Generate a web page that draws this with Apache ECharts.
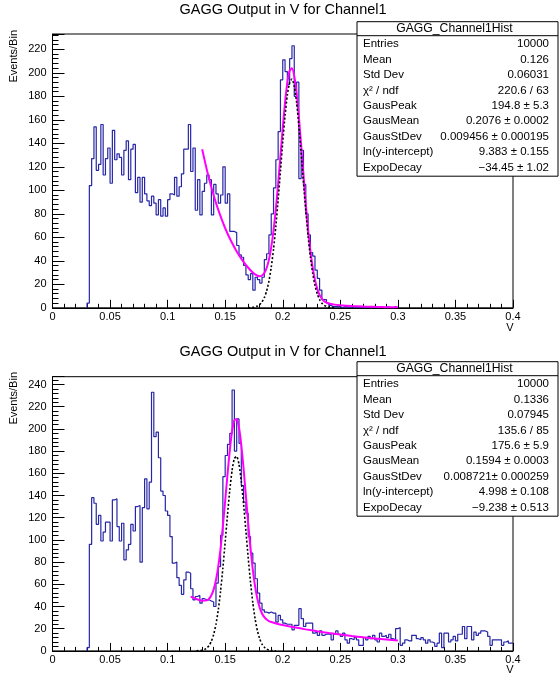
<!DOCTYPE html>
<html><head><meta charset="utf-8">
<script src="https://cdn.jsdelivr.net/npm/echarts@6/dist/echarts.min.js"></script>
<style>html,body{margin:0;padding:0;background:#fff}#c{width:559px;height:677px}</style>
</head><body><div id="c"></div>
<script>
// ---------------- data ----------------
const BIN_WIDTH = 0.002;
const xTickInterval = 0.05;
const yTickInterval = 20;
const topYMax = 233;
const botYMax = 247;

const topHistStart = 0.030;
const topCounts = [
  4,104,127,154,117,122,156,113,127,136,
  106,151,126,131,128,113,134,142,109,135,
  139,98,111,90,111,97,91,87,95,89,
  79,92,78,85,78,92,97,96,111,95,
  103,114,135,135,156,116,136,83,109,79,
  99,106,113,109,79,105,97,89,96,120,
  89,97,65,65,64,53,45,43,36,28,
  24,29,15,26,24,21,26,41,46,62,
  80,102,126,150,194,211,201,190,212,223,
  180,192,110,134,105,80,62,47,44,32,
  25,15,7,7,4,2,1,1,1,1,
  0,1,1,0,1,0,1,0,1,0,
  0,1,0,0,1,0,0,1,0,0,
  1,0,0,1,0
];

const botHistStart = 0.030;
const botCounts = [
  3,96,138,133,114,122,99,107,116,116,
  99,136,137,112,99,115,82,91,96,114,
  108,130,131,80,129,155,128,152,233,193,
  197,174,144,140,126,122,103,79,80,66,
  59,51,64,71,70,56,46,49,50,43,
  47,46,46,45,44,40,61,76,104,157,
  176,186,196,235,180,209,187,149,134,124,
  103,88,79,65,52,43,37,35,34,35,
  34,34,26,32,28,25,24,24,24,19,
  23,23,38,29,22,25,25,25,16,17,
  14,18,14,15,15,15,10,15,18,15,
  13,16,10,7,11,10,12,10,5,5,
  12,10,13,11,14,10,8,16,13,14,
  12,15,11,10,20,21,5,7,10,9,
  9,14,14,11,10,12,10,7,10,8,
  7,4,7,16,3,16,16,8,10,13,
  9,15,15,22,11,22,22,10,17,14,
  16,18,18,17,13,5,10,10,10,10,
  5,8,9,7,7
];

// fit curves (total fit, magenta)
const topFitX = [0.130,0.135,0.140,0.145,0.150,0.155,0.160,0.165,0.170,0.175,0.178,0.180,0.182,0.184,0.186,0.188,0.190,0.192,0.194,0.196,0.198,0.200,0.202,0.204,0.206,0.208,0.210,0.212,0.214,0.216,0.218,0.220,0.222,0.224,0.226,0.228,0.230,0.232,0.234,0.236,0.238,0.240,0.245,0.250,0.260,0.270,0.280,0.290,0.300];
const topFitY = [134.9,113.6,95.6,80.5,67.7,57.0,48.0,40.4,34.1,29.1,27.3,26.9,27.5,29.6,33.9,41.0,51.6,65.8,84.2,105.7,129.3,153.1,174.8,191.7,201.8,203.8,197.2,182.8,162.4,138.3,112.9,88.5,66.8,48.6,34.3,23.6,16.1,11.0,7.7,5.6,4.4,3.6,2.7,2.2,1.5,1.1,0.8,0.55,0.4];
// gaussian component (black dotted)
const topGausX = [0.170,0.175,0.178,0.180,0.182,0.184,0.186,0.188,0.190,0.192,0.194,0.196,0.198,0.200,0.202,0.204,0.206,0.208,0.210,0.212,0.214,0.216,0.218,0.220,0.222,0.224,0.226,0.228,0.230,0.232,0.234,0.236,0.238,0.240,0.245];
const topGausY = [0.07,0.51,1.45,2.75,4.99,8.64,14.3,22.7,34.5,49.9,69.3,91.8,116.3,141.0,163.5,181.2,192.0,194.6,188.6,174.8,154.9,131.3,106.4,82.4,61.1,43.3,29.3,19.0,11.8,7.0,3.96,2.14,1.11,0.55,0.08];

const botFitX = [0.120,0.125,0.130,0.134,0.136,0.138,0.140,0.142,0.144,0.146,0.148,0.150,0.152,0.154,0.156,0.158,0.160,0.162,0.164,0.166,0.168,0.170,0.172,0.174,0.176,0.178,0.180,0.182,0.184,0.186,0.188,0.190,0.195,0.200,0.210,0.220,0.230,0.240,0.250,0.260,0.270,0.280,0.290,0.300];
const botFitY = [48.9,46.8,45.2,45.5,47.0,50.1,55.4,63.9,76.1,92.4,112.6,135.2,158.9,180.7,197.8,207.8,209.0,201.2,185.4,163.9,139.4,114.7,92.1,73.0,57.9,46.7,38.9,33.7,30.4,28.3,26.9,26.0,24.5,23.3,21.3,19.4,17.7,16.1,14.7,13.4,12.2,11.15,10.2,9.27];
const botGausX = [0.125,0.130,0.132,0.134,0.136,0.138,0.140,0.142,0.144,0.146,0.148,0.150,0.152,0.154,0.156,0.158,0.160,0.162,0.164,0.166,0.168,0.170,0.172,0.174,0.176,0.178,0.180,0.182,0.184,0.186,0.188,0.190,0.194];
const botGausY = [0.07,0.60,1.26,2.53,4.80,8.65,14.8,24.0,36.9,53.9,74.8,98.2,122.5,145.0,162.7,173.4,175.2,168.0,152.8,131.9,108.0,83.9,61.8,43.3,28.7,18.1,10.8,6.1,3.29,1.68,0.81,0.37,0.07];

const chartTitle = 'GAGG Output in V for Channel1';
const xAxisTitle = 'V';
const yAxisTitle = 'Events/Bin';
const statsHeader = 'GAGG_Channel1Hist';
const statLabels = ['Entries','Mean','Std Dev','\u03C7\u00B2 / ndf','GausPeak','GausMean','GausStDev','ln(y-intercept)','ExpoDecay'];
const topStatValues = ['10000','0.126','0.06031','220.6 / 63','194.8 \u00B1 5.3','0.2076 \u00B1 0.0002','0.009456 \u00B1 0.000195','9.383 \u00B1 0.155','\u221234.45 \u00B1 1.02'];
const botStatValues = ['10000','0.1336','0.07945','135.6 / 85','175.6 \u00B1 5.9','0.1594 \u00B1 0.0003','0.008721\u00B1 0.000259','4.998 \u00B1 0.108','\u22129.238 \u00B1 0.513'];

// ---------------- helpers ----------------
const FONT = '"Liberation Sans", Arial, Helvetica, sans-serif';
const HIST_COLOR = '#2626a6';
function histPoints(start, counts) {
  const pts = [[start, 0]];
  counts.forEach((c, i) => pts.push([start + i * BIN_WIDTH, c]));
  pts.push([start + counts.length * BIN_WIDTH, counts[counts.length - 1]]);
  return pts;
}
function zip(xs, ys) { return xs.map((x, i) => [x, ys[i]]); }

function xAxisCfg(gi) {
  return {
    type: 'value', gridIndex: gi, min: 0, max: 0.4, interval: xTickInterval,
    axisLine: { show: true, onZero: false, lineStyle: { color: '#000', width: 1 } },
    axisTick: { show: true, inside: true, length: 8, lineStyle: { color: '#000', width: 1 } },
    minorTick: { show: true, splitNumber: 5, length: 4, lineStyle: { color: '#000', width: 1 } },
    axisLabel: { color: '#000', fontSize: 11, fontFamily: FONT, margin: 4 },
    splitLine: { show: false }, minorSplitLine: { show: false }
  };
}
function yAxisCfg(gi, max) {
  return {
    type: 'value', gridIndex: gi, min: 0, max: max, interval: yTickInterval,
    axisLine: { show: true, onZero: false, lineStyle: { color: '#000', width: 1 } },
    axisTick: { show: true, inside: true, length: 12, lineStyle: { color: '#000', width: 1 } },
    minorTick: { show: true, splitNumber: 5, length: 6, lineStyle: { color: '#000', width: 1 } },
    axisLabel: { color: '#000', fontSize: 11, fontFamily: FONT, margin: 6, showMaxLabel: false,
      formatter: v => (Math.abs(v % yTickInterval) < 1e-9 ? String(v) : '') },
    splitLine: { show: false }, minorSplitLine: { show: false }
  };
}
function txt(x, y, text, size, align, valign, extra) {
  return Object.assign({
    type: 'text', x: x, y: y, z: 110, silent: true,
    style: { text: text, font: size + 'px ' + FONT, fill: '#000',
      align: align, verticalAlign: valign, textAlign: align, textVerticalAlign: valign }
  }, extra || {});
}
function statsBox(top, values) {
  const left = 357, width = 201, height = 154.5;
  const els = [
    { type: 'rect', z: 100, silent: true, shape: { x: left, y: top, width: width, height: height },
      style: { fill: '#fff', stroke: '#000', lineWidth: 1 } },
    { type: 'line', z: 101, silent: true, shape: { x1: left, y1: top + 14, x2: left + width, y2: top + 14 },
      style: { stroke: '#000', lineWidth: 1 } },
    txt(left + width / 2 - 3, top + 6.8, statsHeader, 12.2, 'center', 'middle')
  ];
  statLabels.forEach((lab, i) => {
    const y = top + 22.6 + i * 15.4;
    els.push(txt(363, y, lab, 11.5, 'left', 'middle'));
    els.push(txt(549, y, values[i], 11.5, 'right', 'middle'));
  });
  return els;
}

const chart = echarts.init(document.getElementById('c'), null, { renderer: 'canvas' });
const option = {
  animation: false,
  backgroundColor: '#fff',
  grid: [
    { left: 52.5, top: 34, width: 460.5, height: 273.8, show: true, borderColor: '#000', borderWidth: 1, backgroundColor: 'transparent' },
    { left: 52.5, top: 376.7, width: 460.5, height: 274.2, show: true, borderColor: '#000', borderWidth: 1, backgroundColor: 'transparent' }
  ],
  xAxis: [xAxisCfg(0), xAxisCfg(1)],
  yAxis: [yAxisCfg(0, topYMax), yAxisCfg(1, botYMax)],
  series: [
    { type: 'line', xAxisIndex: 0, yAxisIndex: 0, data: histPoints(topHistStart, topCounts), step: 'end',
      symbol: 'none', silent: true, z: 2, lineStyle: { color: HIST_COLOR, width: 1.2 } },
    { type: 'line', xAxisIndex: 0, yAxisIndex: 0, data: zip(topFitX, topFitY), smooth: 0.2,
      symbol: 'none', silent: true, z: 3, lineStyle: { color: '#ff00ff', width: 2 } },
    { type: 'line', xAxisIndex: 0, yAxisIndex: 0, data: zip(topGausX, topGausY), smooth: 0.2,
      symbol: 'none', silent: true, z: 4, lineStyle: { color: '#000', width: 1.6, type: [2, 2] } },
    { type: 'line', xAxisIndex: 1, yAxisIndex: 1, data: histPoints(botHistStart, botCounts), step: 'end',
      symbol: 'none', silent: true, z: 2, lineStyle: { color: HIST_COLOR, width: 1.2 } },
    { type: 'line', xAxisIndex: 1, yAxisIndex: 1, data: zip(botFitX, botFitY), smooth: 0.2,
      symbol: 'none', silent: true, z: 3, lineStyle: { color: '#ff00ff', width: 2 } },
    { type: 'line', xAxisIndex: 1, yAxisIndex: 1, data: zip(botGausX, botGausY), smooth: 0.2,
      symbol: 'none', silent: true, z: 4, lineStyle: { color: '#000', width: 1.6, type: [2, 2] } }
  ],
  graphic: [].concat(
    [
      txt(283, 10, chartTitle, 14.5, 'center', 'middle'),
      txt(283, 352, chartTitle, 14.5, 'center', 'middle'),
      txt(510, 328, xAxisTitle, 11, 'center', 'middle'),
      txt(510, 670, xAxisTitle, 11, 'center', 'middle'),
      txt(8.5, 30, yAxisTitle, 11, 'right', 'top', { rotation: Math.PI / 2 }),
      txt(8.5, 372, yAxisTitle, 11, 'right', 'top', { rotation: Math.PI / 2 })
    ],
    statsBox(21.7, topStatValues),
    statsBox(361.7, botStatValues)
  )
};
chart.setOption(option);
</script>
</body></html>
